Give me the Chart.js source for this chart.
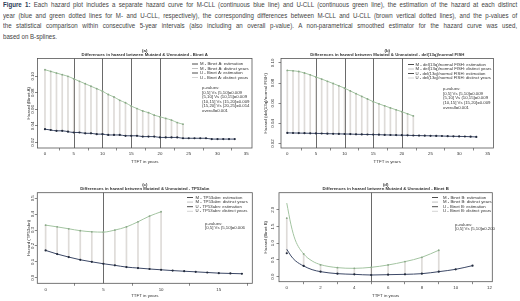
<!DOCTYPE html>
<html>
<head>
<meta charset="utf-8">
<script src="https://cdn.jsdelivr.net/npm/chart.js@4.4.0/dist/chart.umd.min.js"></script>
<style>
html,body{margin:0;padding:0;background:#fff;}
body{width:520px;height:301px;position:relative;overflow:hidden;font-family:"Liberation Sans",Arial,sans-serif;}
#caption{position:absolute;left:3px;top:0;width:627px;transform:scaleX(0.82);transform-origin:0 0;font-family:"Liberation Sans",Arial,sans-serif;font-size:7.5px;line-height:10.7px;color:#444;}
#caption div{text-align:justify;text-align-last:justify;white-space:nowrap;}
#caption div.last{text-align-last:left;}
#caption b{color:#2b3a55;}
canvas{position:absolute;}
</style>
</head>
<body>

<div id="caption">
<div><b>Figure 1:</b> Each hazard plot includes a separate hazard curve for M-CLL (continuous blue line) and U-CLL (continuous green line), the estimation of the hazard at each distinct</div>
<div>year (blue and green dotted lines for M- and U-CLL, respectively), the corresponding differences between M-CLL and U-CLL (brown vertical dotted lines), and the p-values of</div>
<div>the statistical comparison within consecutive 5-year intervals (also including an overall p-value). A non-parametrical smoothed estimator for the hazard curve was used,</div>
<div class="last">based on B-splines.</div>
</div>

<canvas id="pa" width="260" height="124" style="left:0;top:46px"></canvas>
<canvas id="pb" width="260" height="124" style="left:260px;top:46px"></canvas>
<canvas id="pc" width="260" height="129" style="left:0;top:172px"></canvas>
<canvas id="pd" width="260" height="129" style="left:260px;top:172px"></canvas>

<script>

// ---- (a) Binet A
const yearsA = [0,1,2,3,4,5,6,7,8,9,10,11,12,13,14,15,16,17,18,19,20,21,22,23,24,25,26,27,28,29,30,31,32,33];
const mA = [0.036,0.035,0.034,0.034,0.033,0.032,0.032,0.031,0.031,0.030,0.030,0.029,0.029,0.029,0.028,0.028,0.028,0.027,0.027,0.027,
            0.026,0.026,0.026,0.026,0.025,0.025,0.025,0.025,0.025,0.024,0.024,0.024,0.024,0.024];
const uA = [0.108,0.106,0.104,0.102,0.100,0.097,0.094,0.091,0.088,0.085,0.082,0.078,0.075,0.071,0.068,0.064,0.061,0.058,0.056,0.053,
            0.051,0.049,0.047,0.044,0.042];
const yTicksA = [0.02,0.04,0.06,0.08,0.10];
const pvalsA = ["p-values:","[0,5] Vs (5,10]=0.009","(5,10] Vs (10,15]=0.009","(10,15] Vs (15,20]=0.009","(15,20] Vs (20,25]=0.014","overall=0.001"];

// ---- (b) del(13q)/normal FISH
const yearsB = [0,1,2,3,4,5,6,7,8,9,10,11,12,13,14,15,16,17,18,19,20,21,22,23,24,25,26,27,28,29,30,31,32,33];
const mB = [0.0306,0.0305,0.0304,0.0303,0.0302,0.0301,0.0300,0.0298,0.0297,0.0296,0.0295,0.0294,0.0292,0.0291,0.0290,0.0289,0.0288,
            0.0286,0.0285,0.0284,0.0283,0.0282,0.0280,0.0279,0.0278,0.0277,0.0276,0.0275,0.0273,0.0272,0.0271,0.0270,0.0268,0.0266];
const uB = [0.0926,0.0922,0.0915,0.0900,0.0882,0.0860,0.0840,0.0818,0.0796,0.0773,0.0750,0.0722,0.0695,0.0668,0.0642,0.0616,
            0.0594,0.0574,0.0554,0.0535,0.0516,0.0495,0.0474];
const yTicksB = [0.02,0.04,0.06,0.08,0.10];
const pvalsB = ["p-values:","[0,5] Vs (5,10]=0.009","(5,10] Vs (10,15]=0.009","(10,15] Vs (15,20]=0.009","overall=0.001"];

// ---- (c) TP53abn
const yearsC = [0,1,2,3,4,5,6,7,8,9,10,11,12,13,14,15,16,17];
const mC = [0.172,0.149,0.130,0.113,0.100,0.088,0.078,0.067,0.061,0.055,0.050,0.045,0.041,0.037,0.033,0.029,0.027,0.025];
const uC = [0.331,0.320,0.308,0.296,0.289,0.287,0.300,0.320,0.352,0.388,0.415];
const yTicksC = [0.0,0.1,0.2,0.3,0.4,0.5];
const pvalsC = ["p-values:","[0,5] Vs (5,10]=0.006"];

// ---- (d) Binet B
const smoothXuD = [0,0.25,0.5,1,1.5,2,3,4,5,6,7,8,9];
const smoothUD  = [2.2,1.55,1.1,0.68,0.47,0.36,0.27,0.25,0.28,0.35,0.45,0.58,0.79];
const smoothXmD = [0,0.25,0.5,1,1.5,2,3,4,5,6,7,8,9,10,11];
const smoothMD  = [0.82,0.62,0.48,0.32,0.21,0.15,0.09,0.07,0.05,0.06,0.07,0.09,0.15,0.22,0.33];
const yearsD = [0,1,2,3,4,5,6,7,8,9,10,11];
const mD = [0.70,0.32,0.15,0.09,0.07,0.05,0.06,0.07,0.09,0.15,0.22,0.33];
const uD = [1.75,0.68,0.35,0.27,0.25,0.28,0.35,0.45,0.58,0.79];
const yTicksD = [0.0,0.5,1.0,1.5,2.0];
const pvalsD = ["p-values:","[0,5] Vs (5,10]=0.200"];

const xTicksLong = [0,5,10,15,20,25,30,35];
const xTicksC = [0,5,10,15];
const xTicksD = [0,2,4,6,8,10,12];

const mColor = "#3c4866";
const uColor = "#a3c4a1";
const diffColor = "rgba(190,184,178,0.5)";
const refColor = "#6a6a6a";
const axisColor = "#555";
const textColor = "#333";

function pts(xs, ys){
  return ys.map((y,i)=>({x:xs[i], y:y}));
}

function legendLabels(name){
  return ["M - "+name+": estimation","M - "+name+": distinct years","U - "+name+": estimation","U - "+name+": distinct years"];
}

const panels = [
  {id:"pa", letter:"(a)", name:"Binet A", yTitle:"Hazard (Binet A)",
   org:{x:0,y:46}, box:{l:37.5,t:58.5,r:252,b:148},
   xMin:-1.3, xMax:36.0, xTicks:xTicksLong, yMin:0.0132, yMax:0.1216, yTicks:yTicksA, yDec:2,
   smU:pts(yearsA,uA), smM:pts(yearsA,mA), ptU:pts(yearsA,uA), ptM:pts(yearsA,mA),
   refs:[5,10,15,20], pvals:pvalsA,
   t1:50.5, t2:54.5, yLab:5, yTit:9, xTit:162,
   leg:{x:192, tx:200, y:64, dy:4.5}, pv:{x:202, y:88, dy:4.5}},
  {id:"pb", letter:"(b)", name:"del(13q)/normal FISH", yTitle:"Hazard (del(13q)/normal FISH)",
   org:{x:260,y:46}, box:{l:281,t:58.5,r:493.5,b:148},
   xMin:-1.1, xMax:36.0, xTicks:xTicksLong, yMin:0.0156, yMax:0.1044, yTicks:yTicksB, yDec:2,
   smU:pts(yearsB,uB), smM:pts(yearsB,mB), ptU:pts(yearsB,uB), ptM:pts(yearsB,mB),
   refs:[5,10,15,20], pvals:pvalsB,
   t1:50.5, t2:54.5, yLab:8.5, yTit:15, xTit:162,
   leg:{x:408, tx:415.5, y:64.5, dy:4.5}, pv:{x:443, y:89, dy:4.6}},
  {id:"pc", letter:"(c)", name:"TP53abn", yTitle:"Hazard (TP53abn)",
   org:{x:0,y:172}, box:{l:37.3,t:192.7,r:252.3,b:283.3},
   xMin:-0.72, xMax:17.9, xTicks:xTicksC, yMin:-0.035, yMax:0.535, yTicks:yTicksC, yDec:1,
   smU:pts(yearsC,uC), smM:pts(yearsC,mC), ptU:pts(yearsC,uC), ptM:pts(yearsC,mC),
   refs:[5], pvals:pvalsC,
   t1:184.5, t2:188.7, yLab:5, yTit:9, xTit:296,
   leg:{x:187, tx:195.5, y:197.5, dy:4.6}, pv:{x:205, y:223.5, dy:4.6}},
  {id:"pd", letter:"(d)", name:"Binet B", yTitle:"Hazard (Binet B)",
   org:{x:260,y:172}, box:{l:279,t:192.7,r:492.3,b:281.7},
   xMin:-0.46, xMax:12.17, xTicks:xTicksD, yMin:-0.15, yMax:2.51, yTicks:yTicksD, yDec:1,
   smU:pts(smoothXuD,smoothUD), smM:pts(smoothXmD,smoothMD), ptU:pts(yearsD,uD), ptM:pts(yearsD,mD),
   refs:[5], pvals:pvalsD,
   t1:184.5, t2:188.7, yLab:6.5, yTit:13, xTit:296,
   leg:{x:432, tx:443, y:197.5, dy:4.6}, pv:{x:455, y:224.5, dy:4.6}}
];

const panelPlugin = {
  id:"panelDecor",
  beforeDatasetsDraw(chart){
    const p = chart.options.plugins.panelDecor.p;
    const a = chart.chartArea, ctx = chart.ctx, xs = chart.scales.x;
    ctx.save();
    ctx.strokeStyle = refColor;
    ctx.lineWidth = 1;
    p.refs.forEach(v=>{
      const px = Math.round(xs.getPixelForValue(v)) + 0.5;
      ctx.beginPath(); ctx.moveTo(px, a.top); ctx.lineTo(px, a.bottom); ctx.stroke();
    });
    ctx.restore();
  },
  afterDraw(chart){
    const p = chart.options.plugins.panelDecor.p;
    const a = chart.chartArea, ctx = chart.ctx, ys = chart.scales.y;
    const ox = p.org.x, oy = p.org.y;
    ctx.save();
    // plot box
    ctx.strokeStyle = axisColor;
    ctx.lineWidth = 0.8;
    ctx.strokeRect(a.left, a.top, a.right - a.left, a.bottom - a.top);

    ctx.fillStyle = textColor;
    ctx.textBaseline = "middle";

    // rotated y tick labels
    ctx.font = "4.4px 'Liberation Sans', Arial, sans-serif";
    ctx.textAlign = "center";
    ys.ticks.forEach(t=>{
      const py = ys.getPixelForValue(t.value);
      ctx.save();
      ctx.translate(a.left - p.yLab, py);
      ctx.rotate(-Math.PI/2);
      ctx.fillText(t.value.toFixed(p.yDec), 0, 0);
      ctx.restore();
    });
    // y title
    ctx.save();
    ctx.translate(a.left - p.yTit, (a.top + a.bottom)/2);
    ctx.rotate(-Math.PI/2);
    ctx.fillText(p.yTitle, 0, 0);
    ctx.restore();
    // x title
    ctx.fillText("TTFT in years", (a.left + a.right)/2, p.xTit - oy);

    // titles
    ctx.font = "bold 4.3px 'Liberation Sans', Arial, sans-serif";
    ctx.fillText(p.letter, (a.left + a.right)/2, p.t1 - oy);
    ctx.fillText("Differences in hazard between Mutated & Unmutated - " + p.name, (a.left + a.right)/2, p.t2 - oy);

    // legend
    ctx.font = "4.3px 'Liberation Sans', Arial, sans-serif";
    ctx.textAlign = "left";
    const legCols = ["#3a3a3a","#b9b9b9","#3a3a3a","#cfcfcf"];
    legendLabels(p.name).forEach((lab,i)=>{
      const y = p.leg.y - oy + i*p.leg.dy;
      ctx.strokeStyle = legCols[i];
      ctx.lineWidth = 0.9;
      ctx.beginPath(); ctx.moveTo(p.leg.x - ox, y); ctx.lineTo(p.leg.x - ox + 6, y); ctx.stroke();
      ctx.fillText(lab, p.leg.tx - ox, y);
    });
    p.pvals.forEach((s,i)=>{
      ctx.fillText(s, p.pv.x - ox, p.pv.y - oy + i*p.pv.dy);
    });
    ctx.restore();
  }
};

function drawPanel(p){
  const cv = document.getElementById(p.id);
  const W = cv.width, H = cv.height;
  const diffs = p.ptU.map((u,i)=>({x:u.x, y:[p.ptM[i].y, u.y]}));

  new Chart(cv, {
    type:"line",
    data:{
      datasets:[
        {type:"bar", data:diffs, backgroundColor:diffColor, barThickness:1, order:5},
        {data:p.smU, borderColor:uColor, borderWidth:1, pointRadius:0, cubicInterpolationMode:"monotone", order:3},
        {data:p.smM, borderColor:mColor, borderWidth:1, pointRadius:0, cubicInterpolationMode:"monotone", order:3},
        {data:p.ptU, showLine:false, pointRadius:0.9, pointBorderWidth:0, pointBackgroundColor:"#8aa888", order:1},
        {data:p.ptM, showLine:false, pointRadius:1.1, pointBorderWidth:0, pointBackgroundColor:"#222a3c", order:1}
      ]
    },
    options:{
      responsive:false,
      animation:false,
      events:[],
      layout:{padding:{top:p.box.t - p.org.y, right:p.org.x + W - p.box.r, bottom:0, left:0}},
      plugins:{
        legend:{display:false},
        tooltip:{enabled:false},
        panelDecor:{p:p}
      },
      scales:{
        x:{
          type:"linear", min:p.xMin, max:p.xMax, offset:false,
          afterBuildTicks:s=>{ s.ticks = p.xTicks.map(v=>({value:v})); },
          afterFit:s=>{ s.height = p.org.y + H - p.box.b; },
          grid:{drawOnChartArea:false, drawTicks:true, tickLength:2.5, color:axisColor, lineWidth:0.7},
          border:{display:false},
          ticks:{font:{size:4.4, family:"'Liberation Sans', Arial, sans-serif"}, color:textColor, padding:1,
                 maxRotation:0, autoSkip:false, callback:v=>String(v)}
        },
        y:{
          type:"linear", min:p.yMin, max:p.yMax,
          afterBuildTicks:s=>{ s.ticks = p.yTicks.map(v=>({value:v})); },
          afterFit:s=>{ s.width = p.box.l - p.org.x; },
          grid:{drawOnChartArea:false, drawTicks:true, tickLength:2.5, color:axisColor, lineWidth:0.7},
          border:{display:false},
          ticks:{display:false}
        }
      }
    },
    plugins:[panelPlugin]
  });
}

panels.forEach(drawPanel);
</script>
</body>
</html>
